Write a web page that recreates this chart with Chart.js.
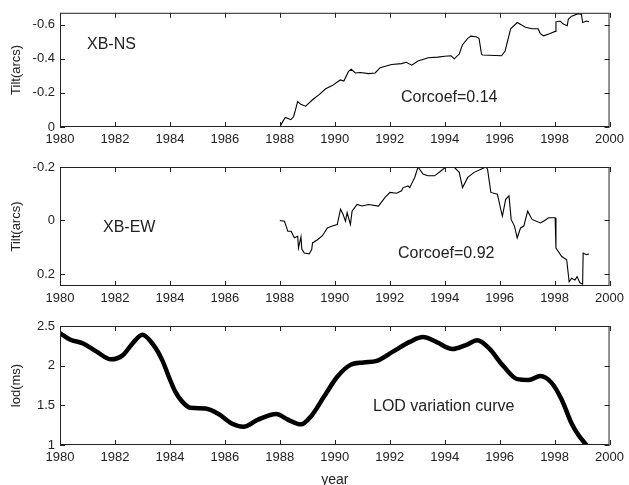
<!DOCTYPE html>
<html>
<head>
<meta charset="utf-8">
<title>XB tilt vs LOD</title>
<script src="https://cdn.jsdelivr.net/npm/chart.js@4.4.1/dist/chart.umd.min.js"></script>
<style>
  html, body { margin: 0; padding: 0; background: #fff; }
  #wrap { position: relative; width: 629px; height: 485px; }
  #wrap canvas { position: absolute; left: 0; }
</style>
</head>
<body>
<div id="wrap">
  <canvas id="nsChart" width="629" height="150" style="top:0"></canvas>
  <canvas id="ewChart" width="629" height="160" style="top:150px"></canvas>
  <canvas id="lodChart" width="629" height="175" style="top:310px"></canvas>
</div>
<script>
// x axis (shared)
const yearTicks = [1980, 1982, 1984, 1986, 1988, 1990, 1992, 1994, 1996, 1998, 2000];

// XB-NS tilt (arcs)
const nsYears = [1988.0, 1988.1, 1988.2, 1988.3, 1988.4, 1988.5, 1988.56, 1988.65, 1988.76, 1988.94,
  1989.19, 1989.43, 1989.67, 1989.91, 1990.2, 1990.33, 1990.5, 1990.6, 1990.75, 1990.93,
  1991.23, 1991.47, 1991.65, 1992.07, 1992.43, 1992.6, 1992.8, 1993.03, 1993.4, 1993.75,
  1994.0, 1994.23, 1994.35, 1994.53, 1994.65, 1994.84, 1994.95, 1995.14, 1995.25, 1995.34,
  1995.38, 1996.07, 1996.2, 1996.4, 1996.64, 1996.94, 1997.18, 1997.4, 1997.48, 1997.6,
  1997.84, 1998.02, 1998.05, 1998.2, 1998.32, 1998.46, 1998.5, 1998.62, 1998.86, 1998.98,
  1999.02, 1999.16, 1999.25];
const nsTilt = [0, -0.03, -0.056, -0.05, -0.043, -0.06, -0.094, -0.15, -0.133, -0.122,
  -0.16, -0.19, -0.224, -0.243, -0.276, -0.27, -0.326, -0.339, -0.317, -0.32,
  -0.313, -0.317, -0.348, -0.367, -0.372, -0.38, -0.363, -0.387, -0.406, -0.41,
  -0.415, -0.418, -0.4, -0.428, -0.483, -0.52, -0.533, -0.53, -0.52, -0.428,
  -0.422, -0.418, -0.446, -0.576, -0.613, -0.585, -0.576, -0.576, -0.548, -0.535,
  -0.548, -0.561, -0.617, -0.622, -0.604, -0.594, -0.632, -0.65, -0.665, -0.66,
  -0.613, -0.622, -0.618];
const nsTicks = [-0.6, -0.4, -0.2, 0];

// XB-EW tilt (arcs)
const ewYears = [1988.0, 1988.17, 1988.23, 1988.29, 1988.41, 1988.53, 1988.65, 1988.68, 1988.77, 1988.8,
  1988.89, 1989.07, 1989.16, 1989.19, 1989.37, 1989.55, 1989.73, 1989.91, 1990.09, 1990.21,
  1990.3, 1990.39, 1990.45, 1990.57, 1990.63, 1990.81, 1990.99, 1991.23, 1991.59, 1991.83,
  1992.01, 1992.25, 1992.43, 1992.49, 1992.67, 1992.73, 1992.79, 1992.91, 1993.03, 1993.21,
  1993.39, 1993.63, 1993.87, 1994.05, 1994.35, 1994.53, 1994.65, 1994.84, 1995.07, 1995.32,
  1995.5, 1995.56, 1995.68, 1995.92, 1996.04, 1996.1, 1996.22, 1996.34, 1996.42, 1996.54,
  1996.64, 1996.76, 1996.88, 1997.02, 1997.18, 1997.48, 1997.6, 1997.78, 1998.02, 1998.05,
  1998.26, 1998.44, 1998.53, 1998.62, 1998.74, 1998.82, 1998.92, 1999.02, 1999.04, 1999.16,
  1999.25];
const ewTilt = [0, 0.003, 0.021, 0.04, 0.04, 0.065, 0.059, 0.103, 0.061, 0.107,
  0.122, 0.125, 0.109, 0.084, 0.072, 0.057, 0.028, 0.021, 0.015, -0.042,
  -0.023, 0.003, -0.029, 0.015, -0.035, -0.06, -0.054, -0.06, -0.054, -0.086,
  -0.105, -0.102, -0.111, -0.123, -0.129, -0.123, -0.136, -0.161, -0.2, -0.174,
  -0.167, -0.167, -0.186, -0.2, -0.199, -0.18, -0.123, -0.161, -0.18, -0.192,
  -0.2, -0.192, -0.105, -0.098, -0.042, -0.016, -0.079, -0.092, -0.004, 0.021,
  0.065, 0.028, 0.021, -0.035, -0.004, 0.009, 0.003, -0.01, -0.01, 0.103,
  0.135, 0.147, 0.229, 0.216, 0.223, 0.21, 0.233, 0.238, 0.122, 0.128,
  0.125];
const ewTicks = [-0.2, 0, 0.2];

// LOD variation (ms)
const lodYears = [1980, 1980.36, 1980.84, 1981.32, 1981.86, 1982.28, 1982.64, 1983.0, 1983.36, 1983.72,
  1983.96, 1984.2, 1984.44, 1984.74, 1985.29, 1985.77, 1986.25, 1986.67, 1987.21, 1987.87,
  1988.29, 1988.77, 1989.13, 1989.61, 1990.09, 1990.57, 1991.05, 1991.53, 1992.13, 1992.73,
  1993.21, 1993.69, 1994.29, 1994.77, 1995.19, 1995.61, 1996.1, 1996.64, 1997.06, 1997.48,
  1997.9, 1998.26, 1998.62, 1998.86, 1999.16];
const lodValues = [2.41, 2.33, 2.28, 2.18, 2.08, 2.13, 2.28, 2.39, 2.28, 2.07,
  1.86, 1.67, 1.55, 1.47, 1.46, 1.39, 1.27, 1.23, 1.32, 1.39,
  1.32, 1.26, 1.36, 1.61, 1.86, 2.01, 2.04, 2.06, 2.18, 2.30,
  2.36, 2.30, 2.21, 2.26, 2.32, 2.22, 2.01, 1.83, 1.82, 1.87,
  1.78, 1.57, 1.27, 1.13, 1.0];
const lodTicks = [1, 1.5, 2, 2.5];

const FONT = '"Liberation Sans", Arial, Helvetica, sans-serif';
const INK = '#222';

// cadre + petites graduations vers l'intérieur (style MATLAB) + textes
const framePlugin = {
  id: 'frame',
  afterDraw(chart, args, opts) {
    const { ctx, chartArea: a, scales: { x, y } } = chart;
    const L = 5;
    ctx.save();
    ctx.strokeStyle = INK;
    ctx.lineWidth = 1;
    ctx.strokeRect(a.left + 0.5, a.top + 0.5, a.right - a.left - 1, a.bottom - a.top - 1);
    ctx.beginPath();
    x.ticks.forEach(t => {
      const px = Math.round(x.getPixelForValue(t.value)) + 0.5;
      ctx.moveTo(px, a.bottom); ctx.lineTo(px, a.bottom - L);
      ctx.moveTo(px, a.top); ctx.lineTo(px, a.top + L);
    });
    y.ticks.forEach(t => {
      const py = Math.round(y.getPixelForValue(t.value)) + 0.5;
      ctx.moveTo(a.left, py); ctx.lineTo(a.left + L, py);
      ctx.moveTo(a.right, py); ctx.lineTo(a.right - L, py);
    });
    ctx.stroke();
    ctx.fillStyle = INK;
    ctx.font = '16px ' + FONT;
    ctx.textBaseline = 'middle';
    ctx.textAlign = 'left';
    (opts.notes || []).forEach(n => ctx.fillText(n.text, n.x, n.y));
    ctx.restore();
  }
};

function toPoints(xs, ys) {
  return xs.map((v, i) => ({ x: v, y: ys[i] }));
}

function makePanel(id, cfg) {
  const canvas = document.getElementById(id);
  return new Chart(canvas, {
    type: 'line',
    data: {
      datasets: [{
        data: toPoints(cfg.xs, cfg.ys),
        borderColor: '#000',
        borderWidth: cfg.lineWidth,
        pointRadius: 0,
        tension: cfg.smooth ? 0.4 : 0,
        cubicInterpolationMode: cfg.smooth ? 'monotone' : 'default',
        fill: false,
      }]
    },
    options: {
      responsive: false,
      animation: false,
      events: [],
      layout: { padding: { top: cfg.top, right: 14, left: 0, bottom: 0 } },
      plugins: {
        legend: { display: false },
        tooltip: { enabled: false },
        frame: { notes: cfg.notes },
      },
      scales: {
        x: {
          type: 'linear',
          min: 1980, max: 2000,
          grid: { display: false, drawTicks: false },
          border: { display: false },
          afterBuildTicks: s => { s.ticks = yearTicks.map(v => ({ value: v })); },
          afterFit: s => { s.height = cfg.xHeight; },
          ticks: { color: INK, font: { family: FONT, size: 13 }, padding: 5, maxRotation: 0, autoSkip: false, callback: v => String(v) },
          title: cfg.xTitle ? { display: true, text: cfg.xTitle, color: INK, font: { family: FONT, size: 14, lineHeight: 1 }, padding: { top: 0, bottom: -2 } } : { display: false },
        },
        y: {
          type: 'linear',
          min: cfg.yMin, max: cfg.yMax,
          reverse: !!cfg.reverse,
          grid: { display: false, drawTicks: false },
          border: { display: false },
          afterBuildTicks: s => { s.ticks = cfg.yTicks.map(v => ({ value: v })); },
          afterFit: s => { s.width = 60; },
          ticks: { color: INK, font: { family: FONT, size: 13 }, padding: 5, autoSkip: false, callback: v => String(+v.toFixed(2)) },
          title: { display: true, text: cfg.yTitle, color: INK, font: { family: FONT, size: 13 }, padding: { top: 9, bottom: 0 } },
        }
      }
    },
    plugins: [framePlugin]
  });
}

makePanel('nsChart', {
  xs: nsYears, ys: nsTilt, yTicks: nsTicks,
  yMin: -0.67, yMax: 0, reverse: true,
  top: 7, xHeight: 23, lineWidth: 1.1,
  yTitle: 'Tilt(arcs)',
  notes: [{ text: 'XB-NS', x: 87, y: 45 }, { text: 'Corcoef=0.14', x: 401, y: 98 }],
});

makePanel('ewChart', {
  xs: ewYears, ys: ewTilt, yTicks: ewTicks,
  yMin: -0.2, yMax: 0.245, reverse: true,
  top: 17, xHeight: 24, lineWidth: 1.1,
  yTitle: 'Tilt(arcs)',
  notes: [{ text: 'XB-EW', x: 103, y: 78 }, { text: 'Corcoef=0.92', x: 398, y: 104 }],
});

makePanel('lodChart', {
  xs: lodYears, ys: lodValues, yTicks: lodTicks,
  yMin: 1, yMax: 2.5,
  top: 16, xHeight: 40, lineWidth: 4.5, smooth: true,
  yTitle: 'lod(ms)', xTitle: 'year',
  notes: [{ text: 'LOD variation curve', x: 373, y: 97 }],
});
</script>
</body>
</html>
